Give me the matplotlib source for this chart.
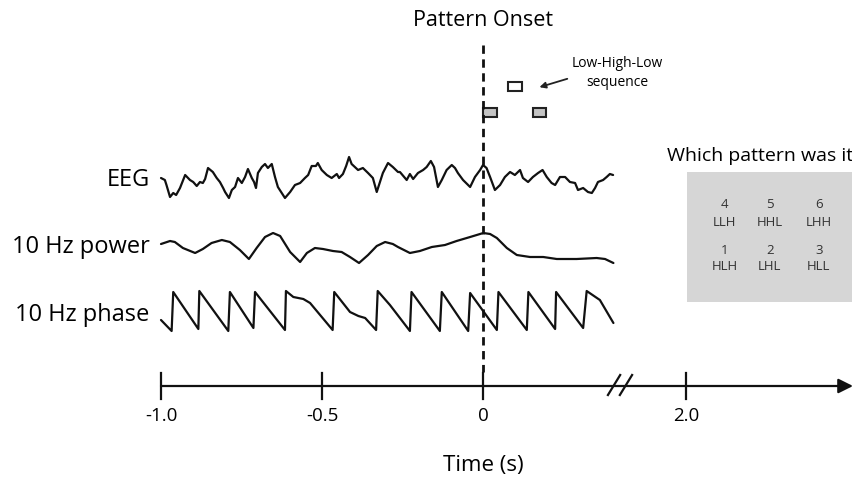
import matplotlib.pyplot as plt
from matplotlib.patches import Rectangle

plt.rcParams['font.family'] = ['Open Sans', 'DejaVu Sans']

# traces: time in ms, amplitude in arbitrary units (up = positive)
eeg_ms = [-1000, -988, -983, -972, -962, -953, -941, -925, -916, -910, -900, -889, -879, -870, -863,
          -854, -839, -827, -817, -807, -801, -789, -780, -770, -761, -749, -739, -730, -718, -711,
          -705, -699, -687, -677, -668, -656, -646, -637, -625, -615, -599, -584, -568, -553, -543,
          -532, -519, -513, -501, -485, -470, -454, -447, -435, -425, -416, -408, -398, -388, -373,
          -357, -342, -330, -320, -311, -295, -280, -264, -258, -237, -227, -217, -202, -186, -175,
          -162, -152, -140, -128, -113, -97, -87, -78, -62, -40, -25, -9, 0, 11, 22,
          37, 53, 68, 84, 99, 115, 124, 140, 155, 171, 185, 198, 213, 224, 239,
          255, 270, 286, 295, 311, 326, 338, 348, 357, 373, 384, 394, 404]
eeg_amp = [2, 0, -5, -17, -13, -15, -8, 5, 2, 0, -2, -6, -2, -3, 1,
           12, 8, 2, -2, -8, -12, -18, -10, -7, 2, -3, 3, 11, 2, -2,
           -8, 7, 13, 16, 12, 16, 3, -7, -13, -18, -12, -5, -3, 2, 5,
           14, 14, 17, 10, 5, 2, 6, 2, 6, 14, 23, 16, 13, 10, 12,
           7, 2, -12, -2, 7, 17, 13, 8, 8, 0, 6, 1, 7, 10, 13,
           19, 13, -7, 0, 10, 15, 12, 7, 0, -7, 3, 10, 15, 12, 3,
           -10, -5, 3, 8, 5, 10, 2, -2, 3, 7, 10, 3, -3, -5, 3,
           3, -2, -3, -10, -8, -12, -13, -8, -2, 0, 3, 6, 5]

power_ms = [-1000, -972, -957, -932, -894, -870, -843, -811, -786, -755, -727, -703, -677, -652, -630,
            -599, -568, -547, -522, -497, -466, -439, -413, -385, -357, -330, -304, -280, -264, -227,
            -196, -159, -118, -82, -40, 1, 22, 43, 74, 105, 146, 187, 229, 291, 353, 379, 405]
power_amp = [4, 7, 6, 0, -5, -1, 5, 8, 6, -2, -11, 0, 11, 15, 12,
             -4, -14, -5, 0, -1, -3, -4, -9, -15, -7, 2, 6, 4, 1, -5,
             -3, 1, 3, 7, 11, 15, 14, 10, 0, -7, -9, -9, -11, -11, -10, -11, -15]

phase_ms = [-1000, -967, -962, -884, -881, -791, -786, -713, -708, -615, -612, -589, -558, -537, -467,
            -462, -413, -387, -366, -332, -327, -289, -227, -222, -134, -128, -46, -40, 43, 48,
            136, 141, 224, 227, 311, 322, 363, 405]
phase_amp = [-9, -20, 19, -18, 20, -20, 19, -17, 19, -19, 20, 14, 12, 8, -19,
             19, -1, -5, -7, -19, 20, 6, -20, 19, -20, 19, -20, 18, -19, 19,
             -19, 19, -18, 19, -17, 20, 11, -12]

row_labels = ['EEG', '10 Hz power', '10 Hz phase']

tick_pos = [-1.0, -0.5, 0.0, 0.63]
tick_lab = ['-1.0', '-0.5', '0', '2.0']

# tone sequence after onset (0 = low, 1 = high)
seq_t = [0.0, 0.078, 0.155]
seq_level = [0, 1, 0]
seq_w = 0.042

pattern_num = ['4', '5', '6', '1', '2', '3']
pattern_seq = ['LLH', 'HHL', 'LHH', 'HLH', 'LHL', 'HLL']

# layout (vertical positions in pixels from the top)
row_y = [180, 247, 315]
axis_y = 386

fig = plt.figure(figsize=(8.53, 4.79), dpi=100)
ax = fig.add_axes([0, 0, 1, 1])
ax.set_xlim(-1.5, 370 / 322)
ax.set_ylim(479, 0)
ax.axis('off')

lw = 1.6
traces = [(eeg_ms, eeg_amp, 180), (power_ms, power_amp, 248), (phase_ms, phase_amp, 311)]
for ms, amp, y0 in traces:
    ax.plot([m / 1000 for m in ms], [y0 - a for a in amp], color='#111111', lw=lw,
            solid_joinstyle='round', solid_capstyle='round')

for lab, y0 in zip(row_labels, row_y):
    ax.text(-1.035, y0, lab, ha='right', va='center', fontsize=17)

# onset line + title
ax.plot([0, 0], [45, 372], color='#111111', lw=2, linestyle=(0, (3, 2)))
ax.text(0, 20, 'Pattern Onset', ha='center', va='center', fontsize=15.5)

# sequence boxes
for t, lev in zip(seq_t, seq_level):
    top = 82 if lev else 108
    ax.add_patch(Rectangle((t, top), seq_w, 8.5, facecolor='white' if lev else '#c4c4c4',
                           edgecolor='#222222', lw=1.5))
ax.annotate('', xy=(0.167, 88), xytext=(0.27, 78),
            arrowprops=dict(arrowstyle='-|>', color='#222222', lw=1.3, mutation_scale=9))
ax.text(0.418, 73, 'Low-High-Low\nsequence', ha='center', va='center', fontsize=10,
        linespacing=1.4)

# response panel
ax.text(0.571, 156, 'Which pattern was it?', ha='left', va='center', fontsize=14)
ax.add_patch(Rectangle((0.634, 172), 1.0, 130, facecolor='#d6d6d6', edgecolor='none'))
col_x = [0.750, 0.891, 1.043]
for i, (n, s) in enumerate(zip(pattern_num, pattern_seq)):
    cx = col_x[i % 3]
    ry = 205 if i < 3 else 250
    ax.text(cx, ry, n, ha='center', va='center', fontsize=9.5, color='#333333')
    ax.text(cx, ry + 17, s, ha='center', va='center', fontsize=9.5, color='#333333')

# time axis with break
ax.annotate('', xy=(370 / 322, axis_y), xytext=(-1.0, axis_y),
            arrowprops=dict(arrowstyle='-|>', color='#111111', lw=1.6, mutation_scale=22,
                            shrinkA=0, shrinkB=0))
for p, lab in zip(tick_pos, tick_lab):
    ax.plot([p, p], [373, 399], color='#111111', lw=1.6)
    ax.text(p, 416, lab, ha='center', va='center', fontsize=13.5)
for bx in [0.388, 0.425]:
    ax.plot([bx, bx + 0.038], [395, 375], color='#111111', lw=1.6)
ax.text(0, 465, 'Time (s)', ha='center', va='center', fontsize=16)

fig.savefig('out.png', dpi=100)
